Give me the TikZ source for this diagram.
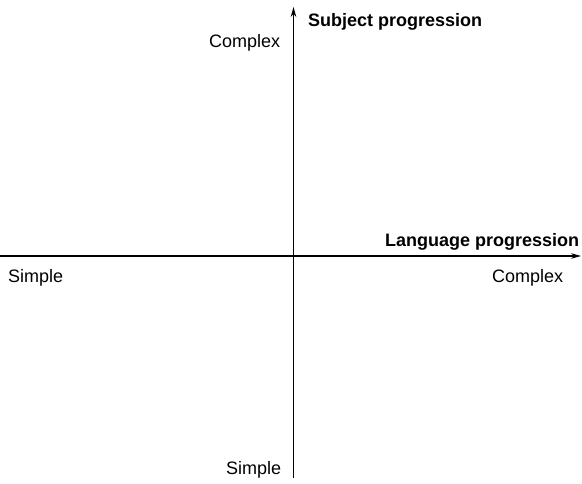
\documentclass[tikz,border=0pt]{standalone}
\usepackage{fontspec}
\setmainfont{Liberation Sans}
\usetikzlibrary{arrows.meta}
\begin{document}
\begin{tikzpicture}[x=1pt,y=-1pt,
  axis/.style={line width=1.1pt,-{Stealth[length=10pt,width=5.5pt]}},
  lbl/.style={anchor=base west,inner sep=0pt,font=\fontsize{18}{21}\selectfont},
  blbl/.style={lbl,font=\fontsize{18}{21}\selectfont\bfseries}]
\useasboundingbox (0,0) rectangle (582,483);
\coordinate (hstart) at (0,256);
\coordinate (hend) at (581,256);
\coordinate (vstart) at (293.5,478);
\coordinate (vend) at (293.5,7);
\draw[axis] (hstart) -- (hend);
\draw[axis] (vstart) -- (vend);
\node[lbl] (ctop) at (209,47) {Complex};
\node[blbl] (subj) at (308,26) {Subject progression};
\node[blbl] (lang) at (385,246) {Language progression};
\node[lbl] (sleft) at (8,282) {Simple};
\node[lbl] (cright) at (492,282) {Complex};
\node[lbl] (sbot) at (226,474) {Simple};
\end{tikzpicture}
\end{document}
